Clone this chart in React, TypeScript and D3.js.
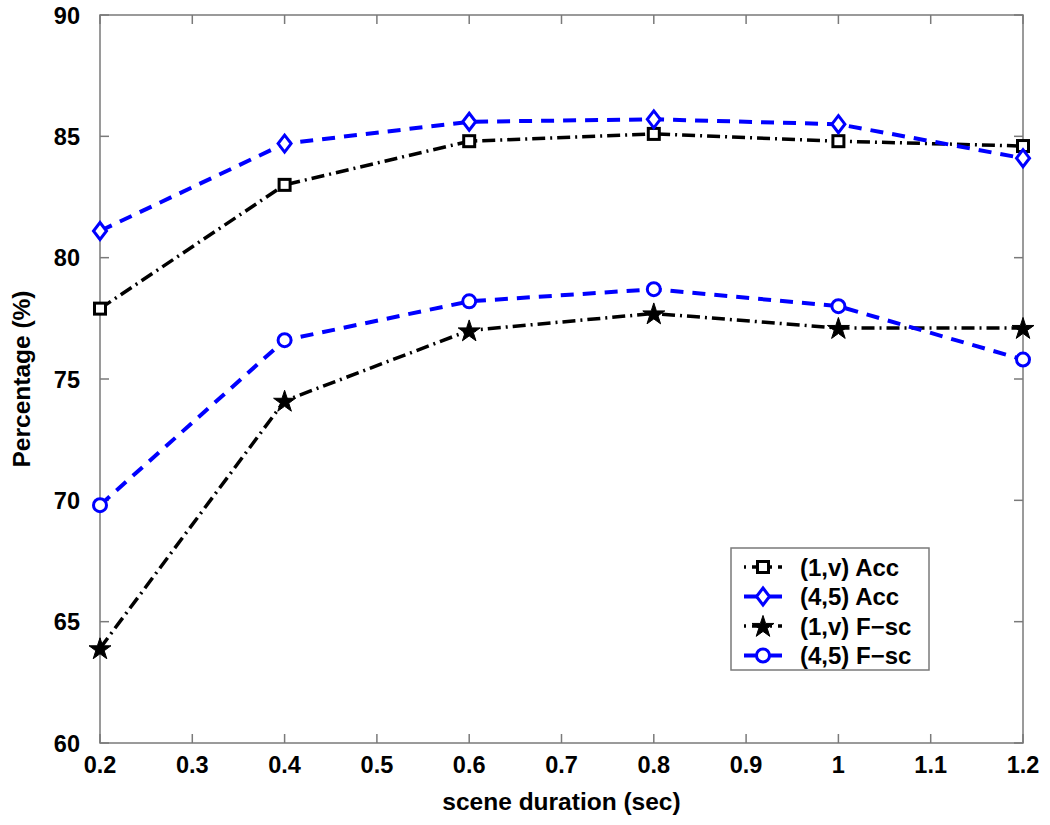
import React from "react";
import * as d3 from "d3";

const durations = [0.2, 0.4, 0.6, 0.8, 1.0, 1.2];
const acc1v = [77.9, 83.0, 84.8, 85.1, 84.8, 84.6];
const acc45 = [81.1, 84.7, 85.6, 85.7, 85.5, 84.1];
const fsc1v = [63.9, 74.1, 77.0, 77.7, 77.1, 77.1];
const fsc45 = [69.8, 76.6, 78.2, 78.7, 78.0, 75.8];
const xTicks = [0.2, 0.3, 0.4, 0.5, 0.6, 0.7, 0.8, 0.9, 1, 1.1, 1.2];
const yTicks = [60, 65, 70, 75, 80, 85, 90];
const seriesNames = ["(1,v) Acc", "(4,5) Acc", "(1,v) F\u2212sc", "(4,5) F\u2212sc"];

const W = 1050, H = 825;
const L = 100, R = 1023, T = 15, B = 743;
const FONT = "'Liberation Sans', Arial, Helvetica, sans-serif";
const BLUE = "#0000ff";
const AX = "#7a7a7a";

type Marker = "square" | "diamond" | "star" | "circle";
interface S { name: string; values: number[]; color: string; dash: string; width: number; marker: Marker }

const series: S[] = [
  { name: seriesNames[0], values: acc1v, color: "#000", dash: "13,5,2,5", width: 3.5, marker: "square" },
  { name: seriesNames[1], values: acc45, color: BLUE, dash: "13,9", width: 4, marker: "diamond" },
  { name: seriesNames[2], values: fsc1v, color: "#000", dash: "13,5,2,5", width: 3.5, marker: "star" },
  { name: seriesNames[3], values: fsc45, color: BLUE, dash: "13,9", width: 4, marker: "circle" },
];

function MarkerShape({ m, x, y, color }: { m: Marker; x: number; y: number; color: string }) {
  if (m === "square") return <rect x={x - 5.5} y={y - 5.5} width={11} height={11} fill="#fff" stroke={color} strokeWidth={3} />;
  if (m === "diamond") return <path d={`M${x},${y - 8.5}L${x + 6.5},${y}L${x},${y + 8.5}L${x - 6.5},${y}Z`} fill="#fff" stroke={color} strokeWidth={3} />;
  if (m === "circle") return <circle cx={x} cy={y} r={6.5} fill="#fff" stroke={color} strokeWidth={3} />;
  const star = d3.symbol().type(d3.symbolStar).size(150)();
  return <path d={star || ""} transform={`translate(${x},${y + 1})`} fill={color} stroke={color} strokeWidth={1} />;
}

export default function App() {
  const x = d3.scaleLinear().domain([0.2, 1.2]).range([L, R]);
  const y = d3.scaleLinear().domain([60, 90]).range([B, T]);
  const line = d3.line<number>().x((_, i) => x(durations[i])).y((v) => y(v));
  const tickLen = 9;
  const legX = 731, legY = 548, legW = 198, legH = 122;
  return (
    <svg width={W} height={H} style={{ position: "absolute", left: 0, top: 0, background: "#fff" }} fontFamily={FONT}>
      <rect x={0} y={0} width={W} height={H} fill="#fff" />
      {xTicks.map((t) => (
        <g key={"xt" + t}>
          <line x1={x(t)} x2={x(t)} y1={B} y2={B - tickLen} stroke={AX} strokeWidth={1.5} />
          <line x1={x(t)} x2={x(t)} y1={T} y2={T + tickLen} stroke={AX} strokeWidth={1.5} />
          <text x={x(t)} y={773} textAnchor="middle" fontSize={23.5} fontWeight="bold" fill="#000">{String(t)}</text>
        </g>
      ))}
      {yTicks.map((t) => (
        <g key={"yt" + t}>
          <line x1={L} x2={L + tickLen} y1={y(t)} y2={y(t)} stroke={AX} strokeWidth={1.5} />
          <line x1={R} x2={R - tickLen} y1={y(t)} y2={y(t)} stroke={AX} strokeWidth={1.5} />
          <text x={80} y={y(t) + 8.5} textAnchor="end" fontSize={23.5} fontWeight="bold" fill="#000">{t}</text>
        </g>
      ))}
      <rect x={L} y={T} width={R - L} height={B - T} fill="none" stroke={AX} strokeWidth={1.5} />
      {series.map((s) => (
        <path key={"l" + s.name} d={line(s.values) || ""} fill="none" stroke={s.color} strokeWidth={s.width} strokeDasharray={s.dash} />
      ))}
      {series.map((s) => (
        <g key={"m" + s.name}>
          {s.values.map((v, i) => (
            <MarkerShape key={i} m={s.marker} x={x(durations[i])} y={y(v)} color={s.color} />
          ))}
        </g>
      ))}
      <text x={(L + R) / 2} y={810} textAnchor="middle" fontSize={24.5} fontWeight="bold" fill="#000">scene duration (sec)</text>
      <text transform={`translate(30,${(T + B) / 2}) rotate(-90)`} textAnchor="middle" fontSize={24.5} fontWeight="bold" fill="#000">Percentage (%)</text>
      <rect x={legX} y={legY} width={legW} height={legH} fill="#fff" stroke={AX} strokeWidth={1.5} />
      {series.map((s, i) => {
        const cy = legY + 19 + i * 29.5;
        return (
          <g key={"lg" + s.name}>
            <line x1={744} x2={782} y1={cy} y2={cy} stroke={s.color} strokeWidth={s.width} strokeDasharray={s.color === BLUE ? "" : "2,6,12,6"} />
            <MarkerShape m={s.marker} x={763} y={cy} color={s.color} />
            <text x={800} y={cy + 8.5} fontSize={24} fontWeight="bold" fill="#000">{s.name}</text>
          </g>
        );
      })}
    </svg>
  );
}
